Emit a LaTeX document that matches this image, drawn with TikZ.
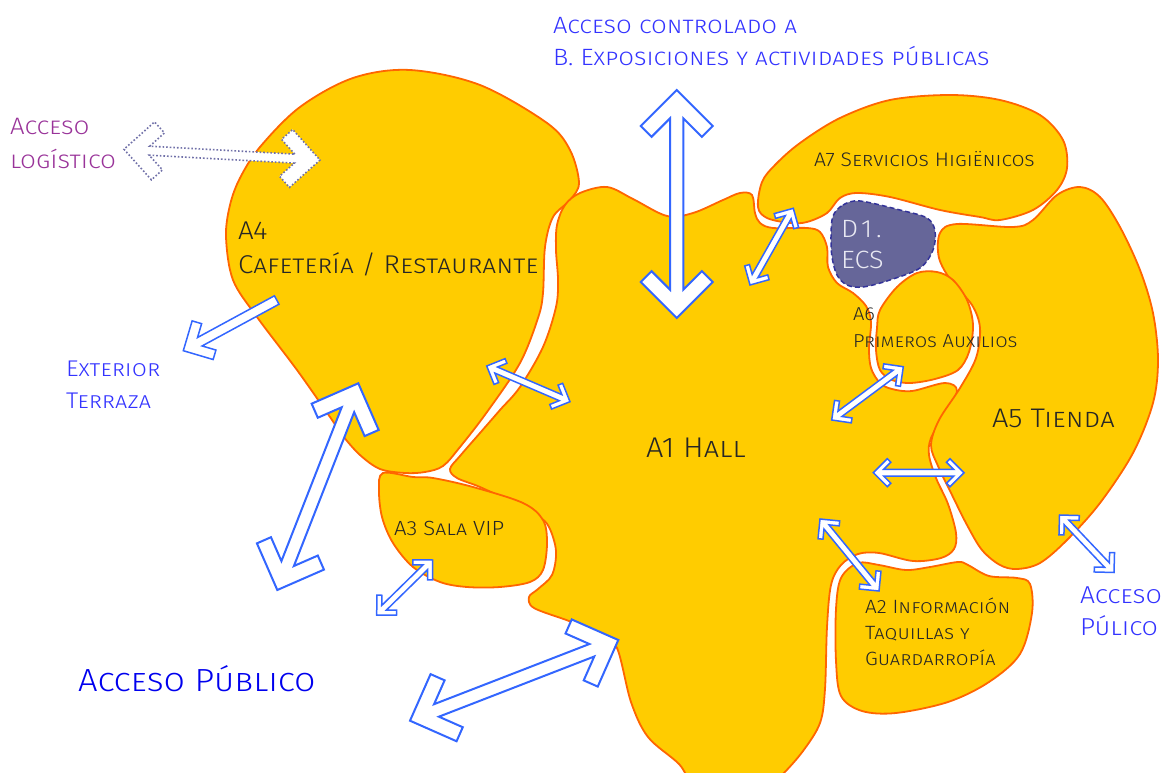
\documentclass[tikz,border=0pt]{standalone}
\usepackage{fontspec}
\setmainfont{Fira Sans}[UprightFont=* Light,FakeStretch=1.08]
\usetikzlibrary{calc}
\definecolor{areafill}{HTML}{FFCC00}
\definecolor{arealine}{HTML}{FF6600}
\definecolor{ecsfill}{HTML}{666699}
\definecolor{ecsline}{HTML}{333399}
\definecolor{ecstext}{HTML}{E8E8F2}
\definecolor{arrowline}{HTML}{3366FF}
\definecolor{logline}{HTML}{7070A8}
\definecolor{logtext}{HTML}{993399}
\definecolor{accesstext}{HTML}{3333FF}
\definecolor{mainaccess}{HTML}{0000EE}
% hollow access arrow with chevron heads: [style]{from}{to}{half shaft}{wing}{head depth}
\newcommand{\hollowarrow}[6][]{%
  \pgfmathanglebetweenpoints{\pgfpointanchor{#2}{center}}{\pgfpointanchor{#3}{center}}%
  \let\arrowangle\pgfmathresult
  \draw[accessarrow,#1]
       ($(#3)+(\arrowangle+180:#6+#4)+(\arrowangle+90:#4)$)
    -- ($(#3)+(\arrowangle+180:#5+#6/2)+(\arrowangle+90:#5-#6/2)$)
    -- ($(#3)+(\arrowangle+180:#5)+(\arrowangle+90:#5)$)
    -- (#3)
    -- ($(#3)+(\arrowangle+180:#5)+(\arrowangle-90:#5)$)
    -- ($(#3)+(\arrowangle+180:#5+#6/2)+(\arrowangle-90:#5-#6/2)$)
    -- ($(#3)+(\arrowangle+180:#6+#4)+(\arrowangle-90:#4)$)
    -- ($(#2)+(\arrowangle:#6+#4)+(\arrowangle-90:#4)$)
    -- ($(#2)+(\arrowangle:#5+#6/2)+(\arrowangle-90:#5-#6/2)$)
    -- ($(#2)+(\arrowangle:#5)+(\arrowangle-90:#5)$)
    -- (#2)
    -- ($(#2)+(\arrowangle:#5)+(\arrowangle+90:#5)$)
    -- ($(#2)+(\arrowangle:#5+#6/2)+(\arrowangle+90:#5-#6/2)$)
    -- ($(#2)+(\arrowangle:#6+#4)+(\arrowangle+90:#4)$)
    -- cycle;
}
% same with one head only, flat tail at #2
\newcommand{\hollowpointer}[6][]{%
  \pgfmathanglebetweenpoints{\pgfpointanchor{#2}{center}}{\pgfpointanchor{#3}{center}}%
  \let\arrowangle\pgfmathresult
  \draw[accessarrow,#1]
       ($(#3)+(\arrowangle+180:#6+#4)+(\arrowangle+90:#4)$)
    -- ($(#3)+(\arrowangle+180:#5+#6/2)+(\arrowangle+90:#5-#6/2)$)
    -- ($(#3)+(\arrowangle+180:#5)+(\arrowangle+90:#5)$)
    -- (#3)
    -- ($(#3)+(\arrowangle+180:#5)+(\arrowangle-90:#5)$)
    -- ($(#3)+(\arrowangle+180:#5+#6/2)+(\arrowangle-90:#5-#6/2)$)
    -- ($(#3)+(\arrowangle+180:#6+#4)+(\arrowangle-90:#4)$)
    -- ($(#2)+(\arrowangle-90:#4)$)
    -- ($(#2)+(\arrowangle+90:#4)$)
    -- cycle;
}
\begin{document}
\begin{tikzpicture}[x=1pt,y=-1pt,inner sep=0pt,outer sep=0pt,
area/.style={draw=arealine,fill=areafill,line width=1.8pt},
ecsarea/.style={draw=ecsline,fill=ecsfill,line width=1.5pt,dash pattern=on 5pt off 3pt},
accessarrow/.style={draw=arrowline,fill=white,line width=1.5pt,line join=miter},
bigarrow/.style={line width=2pt},
logarrow/.style={draw=logline,line width=1.6pt,dotted},
arealabel/.style={anchor=base west,text=black!85},
accesslabel/.style={anchor=base west,text=accesstext},
fsize/.style={font=\fontsize{#1}{#1}\selectfont\scshape}]
\useasboundingbox (0,0) rectangle (1165,773);
\clip (0,0) rectangle (1165,773);

% areas
\draw[area] plot[smooth cycle,tension=0.55] coordinates {(353,78) (410,70) (480,85) (547,123) (570,150) (579,183) (570,200) (553,217) (545,247) (543,293) (538,318) (520,363) (487,412) (460,447) (443,466) (425,472) (405,473) (380,469) (360,455) (343,436) (330,417) (297,370) (257,317) (233,280) (226,237) (230,205) (240,178) (260,147) (300,107)};
\draw[area] plot[smooth cycle,tension=0.55] coordinates {(557,225) (565,205) (580,193) (607,187) (633,199) (667,216) (693,213) (723,200) (740,193) (752,195) (755,213) (760,223) (773,228) (807,228) (820,232) (827,247) (828,267) (837,283) (853,293) (866,306) (871,322) (869,348) (871,368) (880,383) (892,389) (912,391) (945,383) (957,391) (944,416) (931,438) (929,455) (936,478) (948,504) (956,533) (954,549) (941,558) (913,561) (879,553) (858,554) (841,565) (831,585) (827,627) (825,689) (820,723) (803,751) (782,775) (760,795) (700,790) (679,764) (648,737) (631,702) (617,648) (600,634) (569,621) (534,608) (529,597) (538,589) (552,575) (556,551) (549,527) (538,516) (514,503) (480,487) (457,478) (450,469) (460,456) (480,433) (500,410) (520,387) (543,347) (556,307) (558,280) (556,250)};
\draw[area] plot[smooth cycle,tension=0.55] coordinates {(383,473) (413,477) (433,478) (473,487) (523,503) (543,520) (547,543) (543,570) (530,582) (500,587) (467,587) (440,582) (413,567) (393,543) (382,517) (379,490)};
\draw[area] plot[smooth cycle,tension=0.55] coordinates {(858,563) (879,565) (906,570) (930,567) (958,562) (968,565) (989,576) (1017,578) (1030,584) (1032,613) (1020,654) (989,682) (948,702) (896,713) (862,711) (841,696) (836,661) (836,609) (841,578)};
\draw[area] plot[smooth cycle,tension=0.55] coordinates {(940,233) (957,224) (1013,227) (1033,220) (1057,195) (1080,187) (1100,197) (1120,227) (1140,270) (1153,313) (1158,360) (1153,403) (1133,453) (1100,503) (1067,540) (1040,563) (1017,569) (1000,565) (982,550) (967,525) (952,495) (938,466) (931,445) (939,420) (960,388) (976,358) (980,328) (972,305) (952,282) (939,258)};
\draw[area] plot[smooth cycle,tension=0.55] coordinates {(880,310) (897,287) (917,273) (937,272) (953,280) (967,300) (973,325) (969,352) (958,370) (935,379) (910,383) (892,380) (880,370) (876,350) (877,328)};
\draw[area] plot[smooth cycle,tension=0.55] coordinates {(762,182) (758,207) (767,218) (790,223) (807,222) (827,213) (840,198) (857,193) (890,197) (940,210) (980,217) (1000,220) (1033,210) (1057,190) (1067,168) (1063,140) (1040,115) (1000,100) (950,95) (890,100) (840,118) (800,143) (775,165)};
\draw[ecsarea] plot[smooth cycle,tension=0.55] coordinates {(833,216) (843,205) (860,201) (900,210) (927,218) (935,231) (933,250) (920,268) (890,280) (863,287) (847,285) (837,275) (832,257) (831,236)};

% access arrows
\coordinate (expoTop) at (676.7,90);
\coordinate (expoHall) at (676.7,318);
\coordinate (terrIn) at (276.7,300);
\coordinate (terrOut) at (183.3,350.7);
\coordinate (mainIn) at (358.3,383.3);
\coordinate (mainOut) at (277.3,590);
\coordinate (pubIn) at (618.3,640);
\coordinate (pubOut) at (410,720.7);
\coordinate (logOut) at (124,149.3);
\coordinate (logIn) at (320,160);
\coordinate (cafeIn) at (486.7,366);
\coordinate (cafeHall) at (570,401.7);
\coordinate (wcHall) at (750,285);
\coordinate (wcIn) at (793.3,208.3);
\coordinate (aidHall) at (831.7,420);
\coordinate (aidIn) at (903.3,366.7);
\coordinate (shopHall) at (873.3,472.7);
\coordinate (shopIn) at (964,472.7);
\coordinate (vipOut) at (376.7,615);
\coordinate (vipIn) at (432.7,560);
\coordinate (infoHall) at (820,519);
\coordinate (infoIn) at (879,591);
\coordinate (shopDoor) at (1059.5,515);
\coordinate (shopOut) at (1114,572.5);

\hollowarrow[bigarrow]{expoHall}{expoTop}{6.7pt}{36pt}{21.7pt}
\hollowarrow[bigarrow]{mainOut}{mainIn}{6.7pt}{36pt}{21.7pt}
\hollowarrow[bigarrow]{pubOut}{pubIn}{6.7pt}{36pt}{21.7pt}
\hollowpointer{terrIn}{terrOut}{4.8pt}{22pt}{14pt}
\hollowarrow[logarrow]{logOut}{logIn}{4.5pt}{29pt}{21pt}
\hollowarrow{cafeIn}{cafeHall}{3.3pt}{14pt}{7pt}
\hollowarrow{wcHall}{wcIn}{3.3pt}{14pt}{7pt}
\hollowarrow{aidHall}{aidIn}{3.3pt}{14pt}{7pt}
\hollowarrow{shopHall}{shopIn}{3.3pt}{14pt}{7pt}
\hollowarrow{vipOut}{vipIn}{3.3pt}{14pt}{7pt}
\hollowarrow{infoHall}{infoIn}{3.3pt}{14pt}{7pt}
\hollowarrow{shopDoor}{shopOut}{3.3pt}{14pt}{7pt}

% labels
\node[accesslabel,fsize=23.6] (expoA) at (553,34) {Acceso controlado a};
\node[accesslabel,fsize=23.6] (expoB) at (553,66) {B. Exposiciones y actividades públicas};
\node[accesslabel,fsize=23.8,text=logtext] (logA) at (10,135) {Acceso};
\node[accesslabel,fsize=23.8,text=logtext] (logB) at (10,168) {logístico};
\node[arealabel,fsize=25.7] (cafeA) at (238,239) {A4};
\node[arealabel,fsize=25.7] (cafeB) at (238,273) {Cafetería / Restaurante};
\node[accesslabel,fsize=22.7] (terrA) at (66,376) {Exterior};
\node[accesslabel,fsize=22.7] (terrB) at (66,408) {Terraza};
\node[arealabel,fsize=19.6] (wc) at (814,167) {A7 Servicios Higiënicos};
\node[arealabel,fsize=25,text=ecstext] (ecsA) at (841,237) {D\hspace{3pt}1\hspace{4pt}.};
\node[arealabel,fsize=25,text=ecstext] (ecsB) at (841,268) {ECS};
\node[arealabel,fsize=18.7] (aidA) at (853,320) {A6};
\node[arealabel,fsize=18.7] (aidB) at (853,347) {Primeros Auxilios};
\node[arealabel,fsize=26.9] (shop) at (992,427) {A5 Tienda};
\node[arealabel,fsize=28.5] (hall) at (646,457) {A1 Hall};
\node[arealabel,fsize=20.5] (vip) at (394,535) {A3 Sala VIP};
\node[arealabel,fsize=19.2] (infoA) at (865,613) {A2 Información};
\node[arealabel,fsize=19.2] (infoB) at (865,639) {Taquillas y};
\node[arealabel,fsize=19.2] (infoC) at (865,665) {Guardarropía};
\node[accesslabel,fsize=32,text=mainaccess] (pubA) at (78,691) {Acceso Público};
\node[accesslabel,fsize=24.5] (pubrA) at (1080,603) {Acceso};
\node[accesslabel,fsize=24.5] (pubrB) at (1080,635) {Púlico};
\end{tikzpicture}
\end{document}
